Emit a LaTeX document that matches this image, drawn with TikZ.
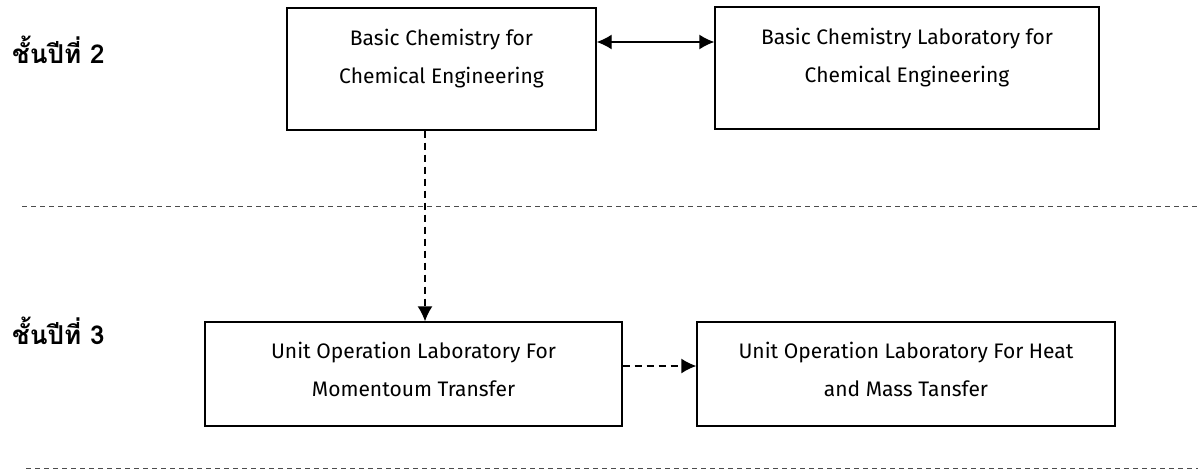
\documentclass[tikz,border=0pt]{standalone}
\usepackage{fontspec}
\setmainfont{Fira Sans}
\newfontfamily\thaifont[Script=Thai]{Loma}
\usetikzlibrary{arrows.meta}
\tikzset{
  box/.style={draw=black, line width=1.4pt, rectangle, inner sep=0pt},
  boxtext/.style={align=center, font=\fontsize{21}{38}\selectfont, anchor=north, inner sep=0pt},
  yearlabel/.style={font=\thaifont\bfseries\fontsize{26}{30}\selectfont, anchor=base west, inner sep=0pt},
  arr/.style={line width=1.4pt, -{Latex[length=15pt,width=15pt]}},
  dblarr/.style={line width=1.4pt, {Latex[length=15pt,width=15pt]}-{Latex[length=15pt,width=15pt]}},
  dasharr/.style={arr, dash pattern=on 7pt off 5pt},
  sepline/.style={draw=black!70, line width=1pt, dash pattern=on 5pt off 4pt}
}
\begin{document}
\begin{tikzpicture}[x=1pt,y=-1pt]
\useasboundingbox (0,0) rectangle (1198,471);
% boxes
\node[box, minimum width=309pt, minimum height=122pt] (b1) at (441.5,69) {};
\node[box, minimum width=384pt, minimum height=122pt] (b2) at (907,68) {};
\node[box, minimum width=417pt, minimum height=104pt] (b3) at (413.5,374) {};
\node[box, minimum width=418pt, minimum height=104pt] (b4) at (906,374) {};
% texts
\node[boxtext] (t1) at ([yshift=-22pt]b1.north) {Basic Chemistry for\\Chemical Engineering};
\node[boxtext] (t2) at ([yshift=-22pt]b2.north) {Basic Chemistry Laboratory for\\Chemical Engineering};
\node[boxtext] (t3) at ([yshift=-21pt]b3.north) {Unit Operation Laboratory For\\Momentoum Transfer};
\node[boxtext] (t4) at ([yshift=-21pt]b4.north) {Unit Operation Laboratory For Heat\\and Mass Tansfer};
% year labels
\node[yearlabel] (y2) at (12,63) {ชั้นปีที่ 2};
\node[yearlabel] (y3) at (12,344) {ชั้นปีที่ 3};
% separators
\coordinate (s1a) at (22,206);
\coordinate (s1b) at (1198,206);
\coordinate (s2a) at (26,468);
\coordinate (s2b) at (1198,468);
\draw[sepline] (s1a) -- (s1b);
\draw[sepline] (s2a) -- (s2b);
% connectors
\coordinate (r1) at (0,42);
\coordinate (c1) at (425,0);
\coordinate (r2) at (0,366);
\draw[dblarr] (b1.east |- r1) -- (b2.west |- r1);
\draw[dasharr] (b1.south -| c1) -- (b3.north -| c1);
\draw[dasharr] (b3.east |- r2) -- (b4.west |- r2);
\end{tikzpicture}
\end{document}
